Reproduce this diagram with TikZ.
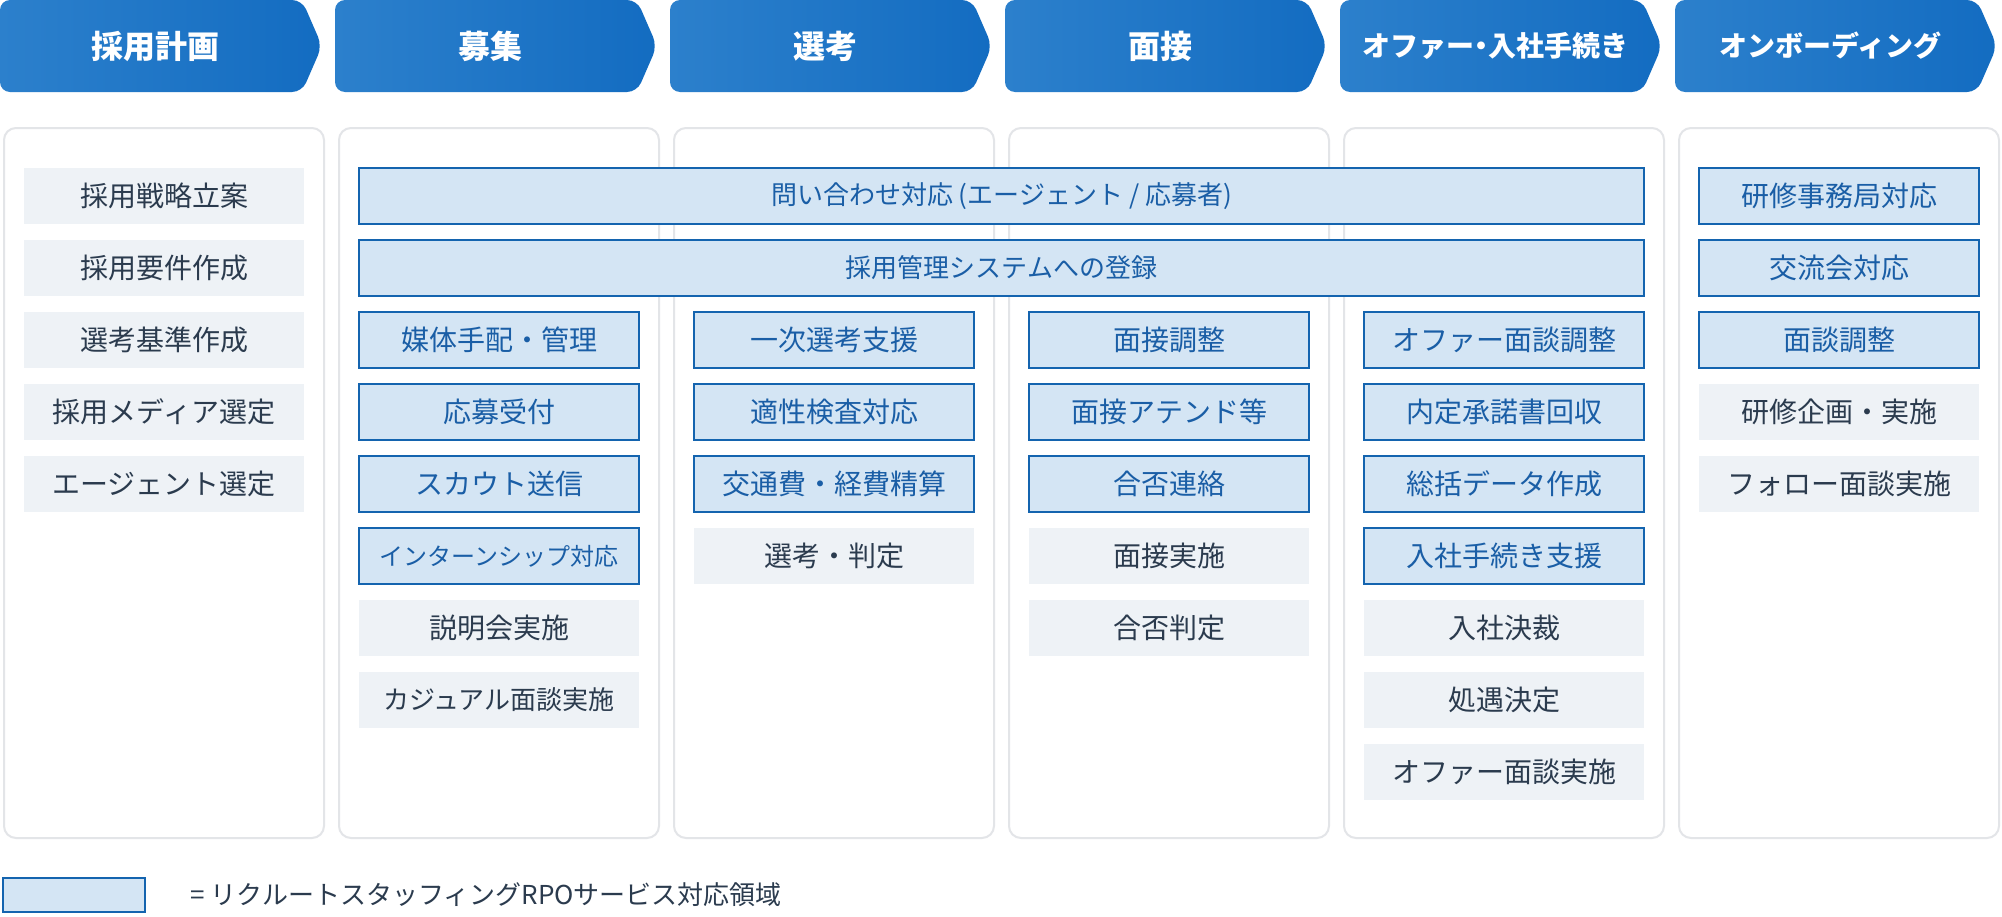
\documentclass[tikz,border=0pt]{standalone}
\usepackage{fontspec}
\setmainfont{Noto Sans CJK JP}
\usetikzlibrary{positioning}

\definecolor{hdrlight}{HTML}{2C80CC}
\definecolor{hdrdark}{HTML}{136CC1}
\definecolor{rpofill}{HTML}{D4E5F4}
\definecolor{rpoline}{HTML}{1464AF}
\definecolor{rpotext}{HTML}{1A5EA6}
\definecolor{taskfill}{HTML}{EEF2F6}
\definecolor{tasktext}{HTML}{2B3B4E}
\definecolor{cardline}{HTML}{E3E5E8}

\newcommand\fsz[1]{\fontsize{#1}{#1}\selectfont}
\newcommand\tightdot{\hspace{-0.25em}・\hspace{-0.25em}}

\begin{document}
\begin{tikzpicture}[x=0.5pt, y=-0.5pt,
    hdrtext/.style={text=white, font=\bfseries, inner sep=0pt},
    card/.style={draw=cardline, line width=1pt, fill=white, rounded corners=6pt},
    task/.style={fill=taskfill, text=tasktext, minimum width=140pt, minimum height=28pt,
        inner sep=0pt, font=\fsz{14}},
    rpo/.style={task, fill=rpofill, draw=rpoline, line width=1.2pt, text=rpotext},
    wide/.style={rpo, minimum width=642.5pt, font=\fsz{13}}]

    % 0. Rahmen
    \fill[white] (0,0) rectangle (2002,916);
    \useasboundingbox (0,0) rectangle (2002,916);

    % 1. Kopfzeile: sechs Pfeile der Phasen
    \def\pitch{335}
    \foreach \lbl/\fs [count=\i from 0] in {採用計画/16, 募集/16, 選考/16, 面接/16,
                                            オファー\tightdot 入社手続き/14, オンボーディング/14} {
        \shade[left color=hdrlight, right color=hdrdark, rounded corners=5pt]
            ({\pitch*\i},0) -- ({\pitch*\i+302},0) -- ({\pitch*\i+322},46)
            -- ({\pitch*\i+302},92) -- ({\pitch*\i},92) -- cycle;
        \node[hdrtext, font=\bfseries\fsz{\fs}] (phase\i) at ({\pitch*\i+155},46) {\lbl};
    }

    % 2. Spalten (Karten)
    \foreach \i in {0,...,5}
        \draw[card] ({\pitch*\i+4},128) rectangle +(320,710);

    % 3. Aufgaben je Spalte (x = Kartenmitte, Zeilenabstand 72)
    % 採用計画
    \foreach \t [count=\r from 0] in {採用戦略立案, 採用要件作成, 選考基準作成, 採用メディア選定, エージェント選定}
        \node[task] (plan\r) at (164,{196+72*\r}) {\t};

    % 募集 .. オファー: gemeinsame breite Felder
    \node[wide] (inquiry) at (1001.5,196) {問い合わせ対応 (エージェント / 応募者)};
    \node[wide] (ats) at (1001.5,268) {採用管理システムへの登録};

    % 募集
    \foreach \t [count=\r from 2] in {媒体手配・管理, 応募受付, スカウト送信, {\fsz{12}インターンシップ対応}}
        \node[rpo] (recruit\r) at (499,{196+72*\r}) {\t};
    \foreach \t [count=\r from 6] in {説明会実施, {\fsz{13}カジュアル面談実施}}
        \node[task] (recruit\r) at (499,{196+72*\r}) {\t};

    % 選考
    \foreach \t [count=\r from 2] in {一次選考支援, 適性検査対応, 交通費・経費精算}
        \node[rpo] (select\r) at (834,{196+72*\r}) {\t};
    \node[task] (select5) at (834,556) {選考・判定};

    % 面接
    \foreach \t [count=\r from 2] in {面接調整, 面接アテンド等, 合否連絡}
        \node[rpo] (interview\r) at (1169,{196+72*\r}) {\t};
    \foreach \t [count=\r from 5] in {面接実施, 合否判定}
        \node[task] (interview\r) at (1169,{196+72*\r}) {\t};

    % オファー・入社手続き
    \foreach \t [count=\r from 2] in {オファー面談調整, 内定承諾書回収, 総括データ作成, 入社手続き支援}
        \node[rpo] (offer\r) at (1504,{196+72*\r}) {\t};
    \foreach \t [count=\r from 6] in {入社決裁, 処遇決定, オファー面談実施}
        \node[task] (offer\r) at (1504,{196+72*\r}) {\t};

    % オンボーディング
    \foreach \t [count=\r from 0] in {研修事務局対応, 交流会対応, 面談調整}
        \node[rpo] (onboard\r) at (1839,{196+72*\r}) {\t};
    \foreach \t [count=\r from 3] in {研修企画・実施, フォロー面談実施}
        \node[task] (onboard\r) at (1839,{196+72*\r}) {\t};

    % 4. Legende
    \node[rpo, minimum width=71pt, minimum height=17pt] (key) at (74,895) {};
    \node[right=22pt of key, inner sep=0pt, text=tasktext, font=\fsz{13}] (keytext)
        {= リクルートスタッフィングRPOサービス対応領域};

\end{tikzpicture}
\end{document}
